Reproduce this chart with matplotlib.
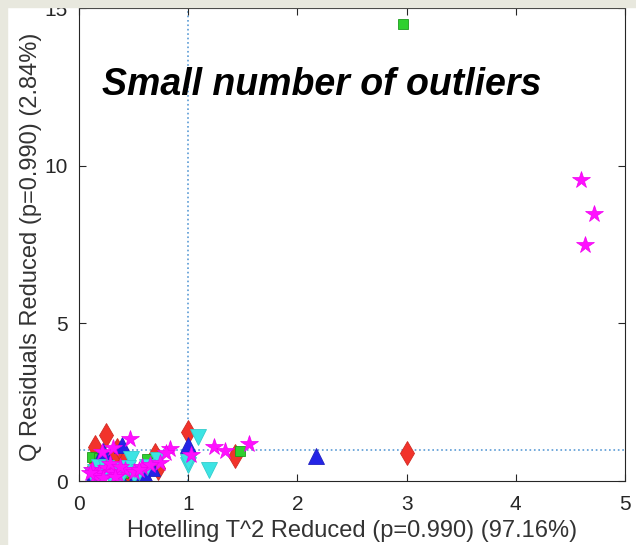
import matplotlib.pyplot as plt
from matplotlib.patches import Rectangle

# --- data (x = Hotelling T^2 reduced, y = Q residuals reduced)
red_x = [0.25, 0.15, 0.39, 0.70, 1.00, 1.43, 0.35, 0.72, 0.20, 0.45, 0.30, 3.00, 0.12, 0.55]
red_y = [1.46, 1.08, 0.85, 0.82, 1.54, 0.79, 0.98, 0.40, 0.55, 0.30, 0.70, 0.88, 0.35, 0.20]

green_x = [0.12, 0.18, 0.62, 1.02, 1.47, 0.19, 0.28, 0.40, 2.97, 0.15, 0.35]
green_y = [0.77, 0.72, 0.70, 0.79, 0.95, 0.03, 0.45, 0.25, 14.48, 0.30, 0.10]

blue_x = [0.39, 1.00, 0.27, 0.51, 0.13, 0.67, 0.30, 2.17, 0.22, 0.45, 0.60, 0.18, 0.36]
blue_y = [1.14, 1.14, 0.66, 0.14, 0.19, 0.40, 0.40, 0.79, 0.95, 0.50, 0.20, 0.45, 0.25]

cyan_x = [1.09, 1.00, 1.19, 0.48, 0.72, 1.00, 0.15, 0.22, 0.28, 0.33, 0.40, 0.18, 0.25,
          0.45, 0.55, 0.30, 0.38, 0.20, 0.12, 0.50, 0.62]
cyan_y = [1.40, 0.50, 0.35, 0.69, 0.66, 0.60, 0.30, 0.20, 0.15, 0.35, 0.25, 0.45, 0.40,
          0.40, 0.30, 0.05, 0.10, 0.10, 0.20, 0.20, 0.45]

mag_x = [0.47, 0.83, 0.80, 1.03, 1.24, 1.34, 1.56, 0.74, 0.21, 0.31, 4.60, 4.72, 4.63,
         0.12, 0.18, 0.25, 0.30, 0.36, 0.42, 0.50, 0.58, 0.65, 0.15, 0.22, 0.28, 0.38,
         0.55, 0.10, 0.33]
mag_y = [1.33, 1.03, 0.90, 0.82, 1.09, 0.95, 1.16, 0.57, 0.93, 1.04, 9.56, 8.48, 7.50,
         0.35, 0.25, 0.40, 0.30, 0.20, 0.35, 0.28, 0.45, 0.50, 0.15, 0.10, 0.55, 0.45,
         0.35, 0.25, 0.12]

x_limit = 1.0   # dotted limit lines
y_limit = 0.98

plt.rcParams['font.family'] = ['Liberation Sans', 'DejaVu Sans']

fig = plt.figure(figsize=(6.36, 5.45), dpi=100)
ax = fig.add_axes([0.1242, 0.1174, 0.8585, 0.8679])

ax.plot(red_x, red_y, 'd', ms=12, color='#F2332B', mec='#D02A22', mew=0.6)
ax.plot(green_x, green_y, 's', ms=7, color='#2FD02F', mec='#1E9A1E', mew=0.6)
ax.plot(blue_x, blue_y, '^', ms=11, color='#2424E6', mec='#2020C0', mew=0.6)
ax.plot(cyan_x, cyan_y, 'v', ms=11, color='#3CE4E4', mec='#34CCCC', mew=0.6)
ax.plot(mag_x, mag_y, '*', ms=13, color='#FF10FF', mec='#F000F0', mew=0.5)

ax.axvline(x_limit, color='#5A9BD5', ls=':', lw=1.2, zorder=0)
ax.axhline(y_limit, color='#5A9BD5', ls=':', lw=1.2, zorder=0)

ax.set_xlim(0, 5)
ax.set_ylim(0, 15)
ax.set_xticks([0, 1, 2, 3, 4, 5])
ax.set_yticks([0, 5, 10, 15])
ax.tick_params(direction='in', top=True, right=True, length=5, width=0.8,
               labelsize=15, colors='#262626')
ax.tick_params(axis='x', pad=10)
ax.tick_params(axis='y', pad=8)
for s in ax.spines.values():
    s.set_color('#262626')
    s.set_linewidth(0.8)

ax.set_xlabel('Hotelling T^2 Reduced (p=0.990) (97.16%)', fontsize=17, color='#333333')
ax.set_ylabel('Q Residuals Reduced (p=0.990) (2.84%)', fontsize=17, color='#333333')
ax.xaxis.set_label_coords(0.5, -0.083)
ax.yaxis.set_label_coords(-0.068, 0.495)

ax.text(0.445, 0.838, 'Small number of outliers', transform=ax.transAxes,
        ha='center', va='center', fontsize=27, fontweight='bold', fontstyle='italic')

# beige screenshot border along top and left edge
beige = '#E8E8DE'
fig.add_artist(Rectangle((0, 1 - 7 / 545), 1, 7 / 545, transform=fig.transFigure,
                         color=beige, zorder=10))
fig.add_artist(Rectangle((0, 0), 7 / 636, 1, transform=fig.transFigure,
                         color=beige, zorder=10))

fig.savefig('out.png', dpi=100)
